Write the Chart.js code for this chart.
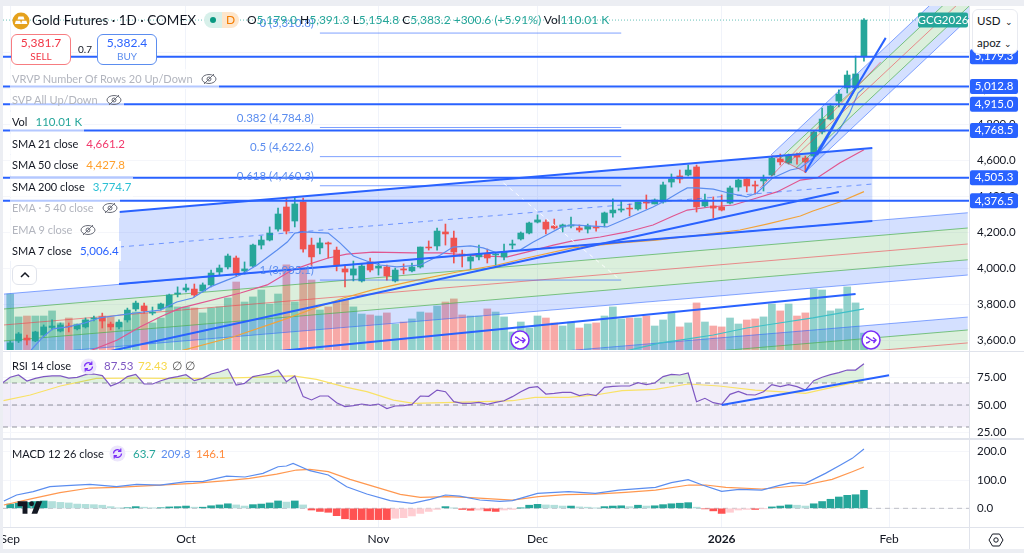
<!DOCTYPE html>
<html>
<head>
<meta charset="utf-8">
<title>Gold Futures</title>
<script src="https://cdn.jsdelivr.net/npm/chart.js@4/dist/chart.umd.min.js"></script>
<style>
  html, body { margin: 0; padding: 0; width: 1024px; height: 553px; overflow: hidden; background: #eceef3; }
  body, div, span { font-family: Lato, sans-serif; font-size: 11px; color: #131722; }
  #page { position: absolute; left: 3px; top: 6px; width: 1021px; height: 543px; background: #fff; }
  canvas { position: absolute; left: 3px; }
  #sep1, #sep2, #sep3, #sepv { position: absolute; background: #e0e3eb; }
  .row { position: absolute; left: 10px; height: 20px; line-height: 20px; padding: 0 2px; background: rgba(255,255,255,.65); white-space: nowrap; }
  .row span { margin-left: 8px; font-size: 11.5px; }
  .off, .off span { color: #b2b5be; }
  .ov { position: absolute; white-space: nowrap; line-height: 16px; }
  .num { font-size: 11.5px; }
  .icon { position: absolute; }
  .box { position: absolute; box-sizing: border-box; background: #fff; border-radius: 6px; text-align: center; }
</style>
</head>
<body>
<div id="page"></div>
<canvas id="priceChart" width="1021" height="344" style="top:6px;width:1021px;height:344px"></canvas>
<canvas id="rsiChart" width="1021" height="86" style="top:352px;width:1021px;height:86px"></canvas>
<canvas id="macdChart" width="1021" height="108" style="top:440px;width:1021px;height:108px"></canvas>
<div id="sep1" style="left:3px;top:351px;width:1021px;height:1px"></div>
<div id="sep2" style="left:3px;top:438px;width:1021px;height:2px"></div>
<div id="sep3" style="left:3px;top:527px;width:1021px;height:1px"></div>
<div id="sepv" style="left:969px;top:6px;width:1px;height:543px"></div>

<svg class="icon" style="left:12px;top:12px" width="18" height="18" viewBox="0 0 18 18"><circle cx="9" cy="9" r="8.5" fill="#e5a11c"/><path d="M6.5 4.5h5l1 3h-7zM2.8 12l1-3.2h4.4l1 3.2zM9 12l1-3.2h4.4l1 3.2z" fill="#fff"/></svg>
<div class="ov" style="left:32px;top:11px;font-size:13.5px;line-height:18px">Gold Futures · 1D · COMEX</div>
<div class="ov" style="left:204px;top:12px;width:18px;height:16px;background:#d7f0ea;border-radius:8px 0 0 8px"></div>
<div class="ov" style="left:222px;top:12px;width:17px;height:16px;background:#fde6cc;border-radius:0 8px 8px 0;color:#f57c00;text-align:center;font-size:12px">D</div>
<div class="ov" style="left:210px;top:17px;width:6px;height:6px;border-radius:3px;background:#089981"></div>
<div class="ov" style="left:247px;top:12px;font-size:12px">O<span class="num" style="color:#26a69a;font-size:12px">5,179.0</span> H<span style="color:#26a69a;font-size:12px">5,391.3</span> L<span style="color:#26a69a;font-size:12px">5,154.8</span> C<span style="color:#26a69a;font-size:12px">5,383.2</span> <span style="color:#26a69a;font-size:12px">+300.6 (+5.91%)</span> Vol<span style="color:#26a69a;font-size:12px">110.01 K</span></div>

<div class="box" style="left:11px;top:34px;width:60px;height:31px;border:1px solid #f77c80">
  <div style="color:#f23645;line-height:15px;font-size:12px">5,381.7</div><div style="color:#f23645;font-size:10px;line-height:12px">SELL</div>
</div>
<div class="ov" style="left:78px;top:41px;font-size:10px">0.7</div>
<div class="box" style="left:97px;top:34px;width:60px;height:31px;border:1px solid #5b8def">
  <div style="color:#2962ff;line-height:15px;font-size:12px">5,382.4</div><div style="color:#5b8def;font-size:10px;line-height:12px">BUY</div>
</div>

<div class="row off" style="top:69px">VRVP Number Of Rows 20 Up/Down<svg style="margin-left:8px;vertical-align:-3px" width="16" height="14" viewBox="0 0 16 14"><ellipse cx="8" cy="7" rx="7" ry="4.5" fill="none" stroke="#6a6d78"/><circle cx="8" cy="7" r="2" fill="none" stroke="#6a6d78"/><path d="M3 12L13 2" stroke="#6a6d78"/></svg></div>
<div class="row off" style="top:90px">SVP All Up/Down<svg style="margin-left:8px;vertical-align:-3px" width="16" height="14" viewBox="0 0 16 14"><ellipse cx="8" cy="7" rx="7" ry="4.5" fill="none" stroke="#6a6d78"/><circle cx="8" cy="7" r="2" fill="none" stroke="#6a6d78"/><path d="M3 12L13 2" stroke="#6a6d78"/></svg></div>
<div class="row" style="top:112px">Vol<span style="color:#26a69a">110.01 K</span></div>
<div class="row" style="top:134px">SMA 21 close<span style="color:#f2386b">4,661.2</span></div>
<div class="row" style="top:155px">SMA 50 close<span style="color:#ffa02c">4,427.8</span></div>
<div class="row" style="top:177px">SMA 200 close<span style="color:#2cc0d4">3,774.7</span></div>
<div class="row off" style="top:198px">EMA · 5 40 close<svg style="margin-left:8px;vertical-align:-3px" width="16" height="14" viewBox="0 0 16 14"><ellipse cx="8" cy="7" rx="7" ry="4.5" fill="none" stroke="#6a6d78"/><circle cx="8" cy="7" r="2" fill="none" stroke="#6a6d78"/><path d="M3 12L13 2" stroke="#6a6d78"/></svg></div>
<div class="row off" style="top:220px">EMA 9 close<svg style="margin-left:8px;vertical-align:-3px" width="16" height="14" viewBox="0 0 16 14"><ellipse cx="8" cy="7" rx="7" ry="4.5" fill="none" stroke="#6a6d78"/><circle cx="8" cy="7" r="2" fill="none" stroke="#6a6d78"/><path d="M3 12L13 2" stroke="#6a6d78"/></svg></div>
<div class="row" style="top:241px;background:rgba(255,255,255,.85)">SMA 7 close<span style="color:#2962ff">5,006.4</span></div>
<div class="box" style="left:12px;top:265px;width:25px;height:20px;border:1px solid #e0e3eb"><svg width="12" height="10" viewBox="0 0 12 10" style="margin-top:4px"><path d="M2 7l4-4 4 4" fill="none" stroke="#131722" stroke-width="1.5"/></svg></div>

<svg class="icon" style="left:510px;top:330px" width="20" height="20" viewBox="0 0 20 20"><circle cx="10" cy="10" r="9" fill="#fff" stroke="#7b2ff7" stroke-width="1.5"/><path d="M5 7c4 0 5 6 10 3M12 7.500l3 2.500-2.500 3M5 13c2 0 3-1 4-2" fill="none" stroke="#7b2ff7" stroke-width="1.4"/></svg>
<svg class="icon" style="left:861px;top:330px" width="20" height="20" viewBox="0 0 20 20"><circle cx="10" cy="10" r="9" fill="#fff" stroke="#7b2ff7" stroke-width="1.5"/><path d="M5 7c4 0 5 6 10 3M12 7.500l3 2.500-2.500 3M5 13c2 0 3-1 4-2" fill="none" stroke="#7b2ff7" stroke-width="1.4"/></svg>

<div class="box" style="left:972px;top:9px;width:46px;height:45px;border:1px solid #e8eaf0">
  <div style="text-align:left;padding-left:4px;line-height:21px;font-size:11.5px">USD <span style="font-size:9px;margin-left:2px">⌄</span></div>
  <div style="text-align:left;padding-left:4px;line-height:21px;font-size:11.5px">apoz <span style="font-size:9px">⌄</span></div>
</div>

<div class="ov" style="left:12px;top:358px">RSI 14 close</div>
<svg class="icon" style="left:80px;top:358px" width="17" height="17" viewBox="0 0 17 17"><circle cx="8.500" cy="8.500" r="8" fill="#ece6fb"/><path d="M4.500 8.500a4 4 0 0 1 7-2.500M12.500 8.500a4 4 0 0 1-7 2.500M11.800 3.500v2.800H9M5.200 13.500v-2.800H8" fill="none" stroke="#7b2ff7" stroke-width="1.2"/></svg>
<div class="ov num" style="left:104px;top:358px;color:#7e57c2">87.53</div>
<div class="ov num" style="left:138px;top:358px;color:#f7d94c">72.43</div>
<div class="ov num" style="left:172px;top:358px;color:#555">∅</div>
<div class="ov num" style="left:185px;top:358px;color:#555">∅</div>

<div class="ov" style="left:12px;top:446px">MACD 12 26 close</div>
<svg class="icon" style="left:109px;top:445px" width="17" height="17" viewBox="0 0 17 17"><circle cx="8.500" cy="8.500" r="8" fill="#ece6fb"/><path d="M4.500 8.500a4 4 0 0 1 7-2.500M12.500 8.500a4 4 0 0 1-7 2.500M11.800 3.500v2.800H9M5.200 13.500v-2.800H8" fill="none" stroke="#7b2ff7" stroke-width="1.2"/></svg>
<div class="ov num" style="left:133px;top:446px;color:#26a69a">63.7</div>
<div class="ov num" style="left:161px;top:446px;color:#5b8def">209.8</div>
<div class="ov num" style="left:196px;top:446px;color:#ff8a3c">146.1</div>

<svg class="icon" style="left:16px;top:500px" width="27" height="15" viewBox="0 5 33 17"><path d="M14 6H2v6h6v9h6V6Zm12 15h-7l6-15h7l-6 15Zm-7-9a3 3 0 1 0 0-6 3 3 0 0 0 0 6Z" fill="#131722"/></svg>
<svg class="icon" style="left:988px;top:532px" width="16" height="16" viewBox="0 0 16 16"><path d="M4.500 2h7L15 8l-3.500 6h-7L1 8z" fill="none" stroke="#131722"/><circle cx="8" cy="8" r="2.200" fill="none" stroke="#131722"/></svg>

<script>
// candles (Sep 2 2025 = bar 0)
var opens = [
  3546,3596,3612,3596,3629,3671,3651,3679,3663,3674,
  3718,3729,3690,3674,3713,3774,3791,3751,3774,3785,
  3857,3880,3885,3874,3908,3980,4008,4058,3986,4013,
  4130,4158,4219,4342,4264,4370,4130,4114,4142,4102,
  3997,3963,3930,4036,4002,4008,3930,3997,3986,4008,
  4119,4125,4203,4169,4080,4041,4064,4080,4075,4064,
  4130,4164,4197,4258,4258,4236,4231,4236,4225,4219,
  4231,4253,4309,4325,4336,4331,4370,4359,4370,4481,
  4515,4520,4565,4348,4348,4342,4364,4453,4498,4465,
  4487,4520,4609,4587,4632,4615,4626,4760,4832,4932,
  5005,5005,5179.0]
var highs = [
  3596,3643,3629,3650,3685,3713,3696,3696,3690,3724,
  3735,3751,3701,3713,3779,3818,3807,3785,3807,3857,
  3897,3913,3913,3919,3991,4019,4080,4069,4036,4136,
  4180,4231,4336,4392,4392,4392,4169,4169,4147,4119,
  4019,4041,4025,4058,4030,4019,4002,4025,4030,4119,
  4153,4225,4247,4208,4102,4075,4130,4108,4086,4136,
  4158,4203,4258,4298,4270,4275,4247,4286,4242,4247,
  4264,4314,4387,4375,4359,4370,4409,4387,4481,4526,
  4548,4576,4576,4414,4398,4409,4459,4498,4504,4487,
  4520,4620,4637,4637,4643,4626,4765,4893,4916,4994,
  5100,5183,5391.3]
var lows = [
  3540,3587,3574,3592,3618,3657,3646,3646,3657,3668,
  3707,3668,3657,3663,3701,3763,3751,3741,3768,3785,
  3841,3869,3841,3869,3897,3963,3997,3958,3969,4008,
  4108,4153,4208,4192,4231,4091,4013,4080,4058,3986,
  3897,3930,3924,3980,3963,3935,3924,3969,3980,4002,
  4102,4102,4130,4030,4008,3997,4047,4030,4019,4047,
  4108,4158,4192,4253,4192,4219,4203,4225,4203,4197,
  4208,4231,4286,4314,4292,4325,4331,4359,4364,4453,
  4476,4515,4314,4342,4281,4320,4359,4431,4426,4414,
  4431,4515,4576,4581,4581,4533,4620,4749,4827,4899,
  4977,4999,5154.8]
var closes = [
  3585,3635,3601,3646,3674,3679,3685,3674,3685,3713,
  3724,3707,3674,3701,3768,3807,3763,3757,3802,3852,
  3863,3891,3852,3908,3974,4002,4069,3974,3997,4130,
  4158,4197,4303,4208,4359,4108,4064,4142,4136,4019,
  3980,3997,4013,3991,4013,3958,3991,3991,4008,4119,
  4114,4208,4192,4091,4069,4064,4080,4058,4080,4091,
  4136,4197,4253,4270,4219,4225,4242,4242,4214,4236,
  4225,4309,4325,4331,4331,4370,4364,4381,4465,4498,
  4498,4548,4342,4381,4336,4325,4448,4492,4459,4459,
  4498,4615,4593,4626,4620,4593,4760,4832,4905,4971,
  5077,5083,5383.2]
// thousands of contracts
var volumes = [
  364,215,221,221,221,254,176,208,169,195,
  195,221,215,176,208,247,241,176,208,293,
  280,280,273,241,273,280,338,442,312,345,
  390,299,364,553,312,533,455,260,280,312,
  325,280,234,228,221,241,169,182,202,247,
  241,286,312,332,228,221,221,267,247,215,
  117,182,143,221,208,176,156,182,143,169,
  176,221,280,202,208,208,221,156,195,241,
  150,176,306,182,156,150,208,169,195,202,
  215,299,254,299,221,241,397,390,254,267,
  410,306,110]

// moving averages: fractional bar position + value at the visible bends
var sma7X = [2.4,3.9,5.1,6.9,8.9,10.7,14,15.9,17.9,19.9,21.8,23.9,25.9,27.5,29.5,31.9,33.1,34,35,38,39.4,41,42.6,44.2,46.2,49,51.4,52.9,55,56.5,58.2,60.9,62.5,64.1,65.9,67.2,69.6,71.3,73.8,76.8,78.2,80,80.9,82,84,85.8,88,89.2,91.1,93.2,94.4,96.4,98.8,100.3,101.3,102]
var sma7Y = [3540,3618,3663,3674,3696,3724,3746,3757,3768,3813,3835,3897,3935,3963,4019,4102,4147,4197,4203,4197,4142,4069,4041,4019,4008,4019,4075,4119,4125,4114,4086,4102,4147,4186,4231,4242,4236,4231,4281,4342,4375,4426,4448,4448,4442,4420,4398,4420,4504,4548,4559,4632,4754,4866,4977,5006.4]
var sma21X = [9.5,12.8,15.5,17.9,20.3,27.5,30.7,33.7,35.8,38,40.2,43.3,48.1,51.4,56.1,59.4,61.7,64.9,67.2,70.5,73.7,76.8,79.2,80.9,83.6,86.4,89.2,91.6,94.4,96.4,99.1,102]
var sma21Y = [3540,3601,3674,3729,3779,3863,3908,3991,4025,4058,4080,4091,4086,4086,4069,4064,4091,4130,4153,4175,4203,4242,4292,4325,4342,4353,4392,4426,4492,4504,4587,4661.2]
var sma50X = [20.3,26.6,32.6,35.8,39.8,43.3,48.6,53.4,58.2,61.7,67.2,72.9,77.2,82.4,87.2,90.4,94.4,95.9,99.1,102]
var sma50Y = [3540,3618,3713,3768,3835,3880,3935,3980,4019,4058,4114,4142,4158,4186,4214,4247,4292,4320,4370,4427.8]
var sma200X = [73.5,77.7,80,84,88,91.9,95.9,102]
var sma200Y = [3540,3585,3601,3629,3668,3696,3724,3774.7]

// horizontal levels and their axis tags
var levelValues = [5179.3,5012.8,4915.0,4768.5,4505.3,4376.5]
// fib retracement
var fibValues = [5310.8,4784.8,4622.6,4460.3,3935.1]
var fibLabels = ['0 (5,310.8)','0.382 (4,784.8)','0.5 (4,622.6)','0.618 (4,460.3)','1 (3,935.1)']
var fibX = [37,73]
var fibDiagX = [58.2,72.9]
var fibDiagY = [4504,3935]

// channel drawn behind the autumn candles
var chanAX = [13,103]
var chanATop = [4314,4671]
var chanAMid = [4119,4470]
var chanABot = [3913,4264]
// long shallow channels, five rails each, top to bottom
var longX = [-0.74,114.4]
var chanBRails = [[3857,4310],[3774,4225],[3685,4136],[3596,4048],[3512,3963]]
var chanCRails = [[3278,3729],[3206,3657],[3133,3585],[3055,3507],[2977,3429]]
// steep January channel, five rails
var riseStartX = [90.9,91.9,92.9,93.9,95]
var riseStartY = [4632,4609,4584,4559,4537]
var riseEndX = [109.9,111.5,113.1,114.7,116.2]
var riseEndY = 5467

// thick trend lines: [x0, x1, y0, y1]
var trendA = [12,99,3540,4426]
var trendB = [32.2,101,3540,3857]
var trendC = [95,104.6,4537,5284]
var trendD = [96.4,101,4632,5005]
var redLine = [89.6,104,4448,5150]

var priceTicks = [3600,3800,4000,4200,4400,4600,4800,5000,5200]
var rsiTicks = [25,50,75]
var macdTicks = [0,100,200]
var timeTicks = [0,21,44,63,85,105]
var timeLabels = ['Sep','Oct','Nov','Dec','2026','Feb']

// RSI, bar -1 first
var rsiValues = [
  69.7,75.2,77.3,71.8,74.2,75.8,76.4,76.4,74.5,75.2,
  77.6,78.2,76.7,67.3,70.3,75.8,77.9,69.1,69.1,72.1,
  74.5,75.8,77.6,72.1,74.2,78.2,80,82.7,68.2,69.7,
  75.8,77.3,78.8,81.8,71.2,76.4,57.6,54.6,58.2,58.2,
  52.1,48.5,49.4,50.9,49.7,50.9,46.7,49.1,49.4,50.6,
  58.2,57.9,63.6,62.1,53,51.5,51.5,52.4,50.6,52.4,
  53.9,57.6,62.1,65.8,66.7,60,60.6,61.5,61.5,58.5,
  60,58.5,66.1,67,67.3,67.3,70.3,68.5,70,75.8,
  77.9,77.3,79.1,53,56.1,52.1,50.6,59.7,62.4,59.4,
  59.1,62.1,68.5,66.7,68.5,66.7,63.6,72.1,75.2,77.6,
  79.4,81.8,81.8,87.53]
var rsiMaX = [-0.8,2.4,6,10.3,14.7,18.7,24.3,29,33.8,36.6,40.2,42.6,45.8,48.2,53,58.5,60,62.7,66.7,69.9,73.1,77.1,81,84.7,89,91.8,95,98.2,102]
var rsiMaY = [54,59.1,67.3,74.2,74.5,74.2,74.2,75.2,76.4,73.3,66.1,62.1,54.5,51.5,52.4,53.6,53.9,57,57,59.1,63,64.2,69.1,67.3,63.6,62.1,60.6,66.1,72.43]
var rsiTrendX = [85,105]
var rsiTrendY = [50,77]
var rsiBands = [70,50,30]

var macdHist = [
  15,18,21,24,26,24,21,19,15,14,
  13,11,6,1,2,6,4,1,2,5,
  6,8,4,4,9,12,16,12,8,13,
  15,19,26,22,26,12,-6,-11,-14,-26,
  -37,-40,-40,-40,-40,-40,-35,-33,-27,-18,
  -11,-4,6,1,-4,-7,-6,-9,-11,-6,
  -4,1,11,14,12,11,8,8,5,4,
  1,6,8,9,6,11,8,9,13,16,
  18,20,4,-2,-9,-18,-14,-6,-4,-4,
  -1,5,8,12,11,8,16,24,32,40,
  46,48,63.7]
var macdX = [-0.76,0.76,2.75,4.74,6.73,9.52,12.7,15.1,17.9,21.08,23.07,25.86,28.05,30.2,32,33,33.8,35.8,38,40.2,42.6,45.4,48,50.2,52,53.7,56.1,58.5,60,63,66.7,69.9,72.7,77.1,79,81,82.7,85,87.1,89.8,91.8,93.4,95,97.4,99.2,100.6,102]
var macdY = [25.8,47,58.8,76.4,80,84.7,76.4,84.7,82.3,94,95.3,114,110.6,123.5,147,149.5,158.9,133,117.7,76.4,50.5,27,17.5,31.7,47,43.4,29.3,24.6,27,52.9,58.8,52.9,64.6,74,90.6,101,82.3,59.9,67,64.6,80,90.6,88.2,123.5,153,176.5,209.8]
var signalX = [-0.76,2.75,5.94,9.52,12.7,17.9,21.87,25.86,28.6,31.83,34.2,35.8,38,40.6,43.8,46.6,49,52.15,54.5,60,63.1,66.3,69.9,73.5,77.1,81.1,83.1,85.5,89.8,95,98.2,100.6,102]
var signalY = [11.6,35.2,55.2,71.7,74,82.3,88.2,97.6,105.9,121,135.3,137.7,129.4,102.3,74,49.3,38.7,41,38.7,29.3,41,48.2,50.5,56.4,64.6,82.3,82.3,74,68.2,82.3,102.3,129.4,146.1]

var UP = '#26a69a', DOWN = '#ef5350'
var X_MIN = -0.86, X_MAX = 114.55
var RAIL = 'rgba(41,98,255,.55)', RAILGREEN = 'rgba(76,175,80,.7)', RAILRED = 'rgba(242,54,69,.55)'
var FILLBLUE = 'rgba(41,98,255,.2)', FILLGREEN = 'rgba(76,175,80,.2)'

function points(xs, ys) {
  return xs.map((x,i)=>({x:x, y:ys[i]}))
}
function line(xs, ys, color, width, dash) {
  return {type:'line', data:points(xs,ys), borderColor:color, borderWidth:width, borderDash:dash||[], pointRadius:0, fill:false, tension:0}
}
function poly(xs, ys, color) {
  return {type:'line', data:points(xs,ys), borderWidth:0, borderColor:'rgba(0,0,0,0)', backgroundColor:color, pointRadius:0, fill:'shape', tension:0}
}
function bar(data, colors, thickness, axis) {
  return {type:'bar', data:data, backgroundColor:colors, barThickness:thickness, grouped:false, yAxisID:axis||'y'}
}
function stamp(datasets) {
  // later entries sit on top
  datasets.forEach((d,i)=>{d.order=-i})
  return datasets
}
function money(v, digits) {
  return v.toLocaleString('en-US',{minimumFractionDigits:digits, maximumFractionDigits:digits})
}
function timeAxis(height, showLabels) {
  return {
    type:'linear', min:X_MIN, max:X_MAX, offset:false,
    afterBuildTicks(s){ s.ticks = timeTicks.map(v=>({value:v})) },
    afterFit(s){ s.height = height; s.paddingLeft = 0; s.paddingRight = 0 },
    grid:{color:'#f0f3fa', drawTicks:false, offset:false},
    border:{display:false},
    ticks:{
      display:showLabels, autoSkip:false, maxRotation:0, padding:5, color:'#131722',
      font:ctx=>timeLabels[ctx.index]==='2026' ? {family:'Lato',size:12,weight:'bold'} : {family:'Lato',size:12},
      callback:(v,i)=>timeLabels[i]
    }
  }
}
function valueAxis(min, max, ticks, digits) {
  return {
    position:'right', min:min, max:max,
    afterBuildTicks(s){ s.ticks = ticks.map(v=>({value:v})) },
    // the labels are allowed to reach the pane edges
    afterFit(s){ s.width = 55; s.paddingTop = 0; s.paddingBottom = 0 },
    grid:{color:'#f5f6fa', drawTicks:false},
    border:{display:false},
    ticks:{padding:8, color:'#131722', font:{family:'Lato',size:11.5}, callback:v=>money(v,digits)}
  }
}
function baseOptions(scales) {
  return {
    responsive:false, animation:false, layout:{padding:0},
    plugins:{legend:{display:false}, tooltip:{enabled:false}},
    scales:scales
  }
}

// candle parts
var volumeBars = volumes.map((v,i)=>({x:i, y:v}))
var volumeColors = closes.map((c,i)=>c>=opens[i] ? 'rgba(38,166,154,.5)' : 'rgba(239,83,80,.5)')
var candleColors = closes.map((c,i)=>c>=opens[i] ? UP : DOWN)
var wicks = highs.map((h,i)=>({x:i, y:[lows[i],h]}))
var bodies = opens.map((o,i)=>({x:i, y:[o,closes[i]]}))

function band(xs, top, bottom, color) {
  return poly([xs[0],xs[1],xs[1],xs[0]], [top[0],top[1],bottom[1],bottom[0]], color)
}

var priceSets = []
priceSets.push(bar(volumeBars, volumeColors, 7, 'yVol'))
;[chanCRails, chanBRails].forEach(function(r) {
  priceSets.push(band(longX, r[0], r[1], FILLBLUE))
  priceSets.push(band(longX, r[1], r[3], FILLGREEN))
  priceSets.push(band(longX, r[3], r[4], FILLBLUE))
  priceSets.push(line(longX, r[0], RAIL, 1))
  priceSets.push(line(longX, r[1], RAILGREEN, 1))
  priceSets.push(line(longX, r[2], RAILRED, 1))
  priceSets.push(line(longX, r[3], RAILGREEN, 1))
  priceSets.push(line(longX, r[4], RAIL, 1))
})
priceSets.push(band(chanAX, chanATop, chanABot, FILLBLUE))
// steep channel
function riseBand(a, b, color) {
  return poly([riseStartX[a],riseEndX[a],riseEndX[b],riseStartX[b]], [riseStartY[a],riseEndY,riseEndY,riseStartY[b]], color)
}
priceSets.push(riseBand(0,1,FILLBLUE))
priceSets.push(riseBand(1,3,FILLGREEN))
priceSets.push(riseBand(3,4,FILLBLUE))
priceSets.push(line(sma200X, sma200Y, '#3fc0c8', 1.2))
priceSets.push(line(sma50X, sma50Y, '#f2a33a', 1.2))
priceSets.push(line(sma21X, sma21Y, '#e0568f', 1.2))
priceSets.push(bar(wicks, candleColors, 1))
priceSets.push(bar(bodies, candleColors, 6))
priceSets.push(line(sma7X, sma7Y, '#5b8def', 1.2))
;[0,1,2,3,4].forEach(function(k) {
  var c = k==2 ? RAILRED : (k==0||k==4 ? RAIL : RAILGREEN)
  priceSets.push(line([riseStartX[k],riseEndX[k]], [riseStartY[k],riseEndY], c, 1))
})
priceSets.push(line([riseStartX[0],riseStartX[4]], [riseStartY[0],riseStartY[4]], RAILRED, 1))
priceSets.push(line([redLine[0],redLine[1]], [redLine[2],redLine[3]], RAILRED, 1))
fibValues.forEach(function(v) {
  priceSets.push(line(fibX, [v,v], 'rgba(41,98,255,.6)', 1))
})
priceSets.push(line(fibDiagX, fibDiagY, 'rgba(255,255,255,.9)', 1, [4,4]))
priceSets.push(line(chanAX, chanAMid, 'rgba(41,98,255,.6)', 1, [5,5]))
priceSets.push(line(chanAX, chanATop, '#2962ff', 2))
priceSets.push(line(chanAX, chanABot, '#2962ff', 2))
levelValues.forEach(function(v) {
  priceSets.push(line([X_MIN,X_MAX], [v,v], '#2962ff', 2))
})
;[trendA,trendB,trendC,trendD].forEach(function(t) {
  priceSets.push(line([t[0],t[1]], [t[2],t[3]], '#2962ff', 2))
})
priceSets.push(line([X_MIN,X_MAX], [closes[102],closes[102]], 'rgba(38,166,154,.7)', 1, [1,2]))

function tag(ctx, text, left, right, y, color) {
  ctx.fillStyle = color
  ctx.beginPath()
  ctx.roundRect(left, y-7.5, right-left, 15, 2)
  ctx.fill()
  ctx.fillStyle = '#fff'
  ctx.textBaseline = 'middle'
  ctx.textAlign = 'center'
  ctx.fillText(text, (left+right)/2, y)
}

var priceLabels = {
  id:'priceLabels',
  afterDatasetsDraw(chart) {
    var ctx = chart.ctx, sy = chart.scales.y, sx = chart.scales.x
    ctx.save()
    ctx.font = '11.5px Lato'
    ctx.textBaseline = 'alphabetic'
    ctx.textAlign = 'right'
    ctx.fillStyle = '#5b8def'
    fibValues.forEach(function(v,i) {
      ctx.fillText(fibLabels[i], sx.getPixelForValue(fibX[0])-6, sy.getPixelForValue(v)-6)
    })
    levelValues.forEach(function(v) {
      tag(ctx, money(v,1), sy.left+1, sy.left+49, sy.getPixelForValue(v), '#2962ff')
    })
    tag(ctx, 'GCG2026', sy.left-51, sy.left-1, sy.getPixelForValue(closes[102]), UP)
    ctx.restore()
  }
}

new Chart(document.getElementById('priceChart'), {
  data:{datasets:stamp(priceSets)},
  options:baseOptions({
    x:timeAxis(0,false),
    y:valueAxis(3545.5,5461.6,priceTicks,1),
    yVol:{display:false, min:0, max:2236}
  }),
  plugins:[priceLabels]
})

var rsiSets = []
rsiSets.push(band([X_MIN,X_MAX], [rsiBands[0],rsiBands[0]], [rsiBands[2],rsiBands[2]], 'rgba(126,87,194,.1)'))
rsiBands.forEach(function(v) {
  rsiSets.push(line([X_MIN,X_MAX], [v,v], 'rgba(120,123,134,.8)', 1, [5,4]))
})
var rsiX = rsiValues.map((v,i)=>i-1)
var rsiLine = line(rsiX, rsiValues, '#7e57c2', 1.2)
rsiLine.fill = {target:{value:70}, above:'rgba(76,175,80,.18)', below:'rgba(0,0,0,0)'}
rsiSets.push(line(rsiMaX, rsiMaY, '#f9e267', 1.2))
rsiSets.push(rsiLine)
rsiSets.push(line(rsiTrendX, rsiTrendY, '#2962ff', 2))

new Chart(document.getElementById('rsiChart'), {
  data:{datasets:stamp(rsiSets)},
  options:baseOptions({x:timeAxis(0,false), y:valueAxis(20,98.2,rsiTicks,2)})
})

// histogram shade follows the bar before it
var histColors = macdHist.map(function(v,i) {
  var prev = i>0 ? macdHist[i-1] : 0
  if(v>=0) return v>=prev ? UP : '#b2dfdb'
  return v<=prev ? '#ff5252' : '#ffcdd2'
})
var macdSets = []
macdSets.push(line([X_MIN,X_MAX], [0,0], 'rgba(120,123,134,.45)', 1, [5,4]))
macdSets.push(bar(macdHist.map((v,i)=>({x:i, y:v})), histColors, 7))
macdSets.push(line(signalX, signalY, '#ff9850', 1.2))
macdSets.push(line(macdX, macdY, '#5b8def', 1.2))

new Chart(document.getElementById('macdChart'), {
  data:{datasets:stamp(macdSets)},
  options:baseOptions({x:timeAxis(21,true), y:valueAxis(-66,241.4,macdTicks,1)})
})
</script>
</body>
</html>
